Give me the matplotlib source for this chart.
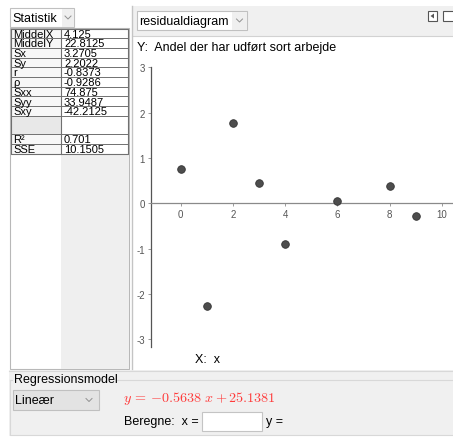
import matplotlib
matplotlib.use('Agg')
import matplotlib.pyplot as plt
from matplotlib.patches import Rectangle, Polygon

plt.rcParams['font.family'] = ['Liberation Sans', 'DejaVu Sans']
plt.rcParams['mathtext.fontset'] = 'cm'

# statistics table (left panel)
stat_names = ['MiddelX', 'MiddelY', 'Sx', 'Sy', 'r', 'ρ', 'Sxx', 'Syy', 'Sxy']
stat_values = ['4.125', '22.8125', '3.2705', '2.2022', '-0.8373', '-0.9286',
               '74.875', '33.9487', '-42.2125']
fit_names = ['R²', 'SSE']
fit_values = ['0.701', '10.1505']

# residual plot data
x_vals = [0, 1, 2, 3, 4, 6, 8, 9]
residuals = [0.76, -2.27, 1.78, 0.45, -0.89, 0.04, 0.38, -0.27]
x_ticks = [0, 2, 4, 6, 8, 10]
y_ticks = [-3, -2, -1, 0, 1, 2, 3]

model_equation = r'$y\, =\, {-}0.5638\ x + 25.1381$'

W, H = 453, 439
fig = plt.figure(figsize=(W / 100, H / 100), dpi=100)
fig.patch.set_facecolor('white')

# full-figure axes in pixel coordinates for the GeoGebra widgets
ui = fig.add_axes([0, 0, 1, 1])
ui.set_xlim(0, W)
ui.set_ylim(H, 0)
ui.axis('off')


def rect(x0, y0, x1, y1, fc='white', ec='none', lw=0.8, z=1):
    ui.add_patch(Rectangle((x0, y0), x1 - x0, y1 - y0, facecolor=fc,
                           edgecolor=ec, linewidth=lw, zorder=z))


def chevron(cx, cy, col='#909090'):
    ui.plot([cx - 3, cx, cx + 3], [cy - 1.5, cy + 1.5, cy - 1.5],
            color=col, lw=0.7, zorder=5)


def dropdown(x0, y0, x1, y1, label, body='white', arrow_w=15):
    rect(x0, y0, x1, y1, fc=body, ec='#c0c0c0', z=3)
    if arrow_w:
        rect(x1 - arrow_w, y0 + 0.5, x1 - 0.5, y1 - 0.5, fc='#efefef', z=3)
        chevron(x1 - arrow_w / 2, (y0 + y1) / 2)
    else:
        chevron(x1 - 10, (y0 + y1) / 2)
    ui.text(x0 + 2.5, (y0 + y1) / 2 + 0.5, label, fontsize=9, va='center',
            ha='left', color='black', zorder=6)


# ---- left panel ----
dropdown(10, 9, 74, 28, 'Statistik', arrow_w=12)
rect(10, 29, 129, 370, fc='white', ec='#b8b8b8', z=1)
rect(61, 29.5, 128.5, 369.5, fc='#efefef', z=1.5)

row_h = 9.7
top = 29.5
rows = list(zip(stat_names, stat_values))
ys = [top + i * row_h for i in range(len(rows))]
blank_y0 = ys[-1] + row_h
blank_y1 = blank_y0 + 1.9 * row_h
fit_ys = [blank_y1 + i * row_h for i in range(len(fit_names))]
table_bottom = fit_ys[-1] + row_h

rect(11, top, 61, table_bottom, fc='#f7f7f7', ec='none', z=2)
rect(61, top, 128, table_bottom, fc='white', ec='none', z=2)
rect(11, blank_y0, 61, blank_y1, fc='#e8e8e8', z=2.1)
ui.plot([11, 128, 128, 11, 11], [top, top, table_bottom, table_bottom, top],
        color='#707070', lw=0.8, zorder=4)
ui.plot([61, 61], [top, table_bottom], color='#707070', lw=0.8, zorder=4)
for y in ys[1:] + [blank_y0, blank_y1] + fit_ys[1:]:
    ui.plot([11, 128], [y, y], color='#707070', lw=0.7, zorder=4)

for (name, val), y in zip(rows, ys):
    ui.text(13, y + row_h / 2 + 0.3, name, fontsize=8, va='center', zorder=6)
    ui.text(64, y + row_h / 2 + 0.3, val, fontsize=8, va='center', zorder=6)
for name, val, y in zip(fit_names, fit_values, fit_ys):
    ui.text(13, y + row_h / 2 + 0.3, name, fontsize=8, va='center', zorder=6)
    ui.text(64, y + row_h / 2 + 0.3, val, fontsize=8, va='center', zorder=6)

# ---- right panel ----
rect(132, 7, W, 36.5, fc='#f0f0f0', z=1)
ui.plot([132, W], [36.5, 36.5], color='#d2d2d2', lw=0.8, zorder=2)
ui.plot([131.5, 131.5], [7, 370], color='#c4c4c4', lw=1.0, zorder=2)
dropdown(137, 12, 247, 31, 'residualdiagram', arrow_w=15)
rect(428, 12, 437, 22, fc='white', ec='#555555', z=3)
ui.add_patch(Polygon([[434, 14.5], [434, 19.5], [430.5, 17]], closed=True,
                     facecolor='#555555', edgecolor='none', zorder=4))
rect(443, 12, 455, 22, fc='white', ec='#555555', z=3)

ui.text(137, 48.5, 'Y:  Andel der har udført sort arbejde', fontsize=9,
        va='center', zorder=6)
ui.text(195, 360, 'X:  x', fontsize=9, va='center', zorder=6)

# ---- bottom panel ----
rect(9, 371, W, 437, fc='#f0f0f0', z=1)
ui.plot([9, W], [371.5, 371.5], color='#d8d8d8', lw=0.8, zorder=2)
ui.plot([116, W], [381, 381], color='#d8d8d8', lw=0.8, zorder=2)
ui.plot([10, 10, W], [381, 436, 436], color='#d8d8d8', lw=0.8, zorder=2)
ui.plot([10, 12], [381, 381], color='#d8d8d8', lw=0.8, zorder=2)
ui.text(14, 380.5, 'Regressionsmodel', fontsize=9, va='center', zorder=6)
dropdown(13, 391, 99, 411, 'Lineær', body='#e3e3e3', arrow_w=0)
ui.text(123, 398.5, model_equation, fontsize=10.2, va='center',
        color='#ff3b3b', zorder=6)
ui.text(124, 422.5, 'Beregne:  x =', fontsize=9, va='center', zorder=6)
rect(202, 413, 262, 432, fc='white', ec='#c4c4c4', z=3)
ui.text(266, 422.5, 'y =', fontsize=9, va='center', zorder=6)

# ---- residual plot ----
px_left, px_right, px_top, px_bot = 150.7, 453.0, 68.0, 348.0
x0_px, x_unit = 180.7, 26.1
y0_px, y_unit = 204.3, 45.3
ax = fig.add_axes([px_left / W, 1 - px_bot / H,
                   (px_right - px_left) / W, (px_bot - px_top) / H])
ax.patch.set_alpha(0)
ax.set_xlim((px_left - x0_px) / x_unit, (px_right - x0_px) / x_unit)
ax.set_ylim((y0_px - px_bot) / y_unit, (y0_px - px_top) / y_unit)

ax.scatter(x_vals, residuals, s=30, color='#4d4d4d', edgecolors='#333333',
           linewidths=0.6, zorder=5, clip_on=False)

for side in ['top', 'right']:
    ax.spines[side].set_visible(False)
ax.spines['bottom'].set_position(('data', 0))
ax.spines['bottom'].set_color('#8a8a8a')
ax.spines['left'].set_color('#555555')
ax.spines['bottom'].set_linewidth(0.9)
ax.spines['left'].set_linewidth(0.9)

ax.set_xticks(x_ticks)
ax.set_yticks(y_ticks)
ax.set_xticklabels([str(t) for t in x_ticks])
ax.set_yticklabels([str(t) for t in y_ticks])
ax.tick_params(axis='both', length=2, width=0.6, colors='#8a8a8a',
               labelcolor='#555555', labelsize=7, pad=2)

fig.savefig('out.png', dpi=100)
